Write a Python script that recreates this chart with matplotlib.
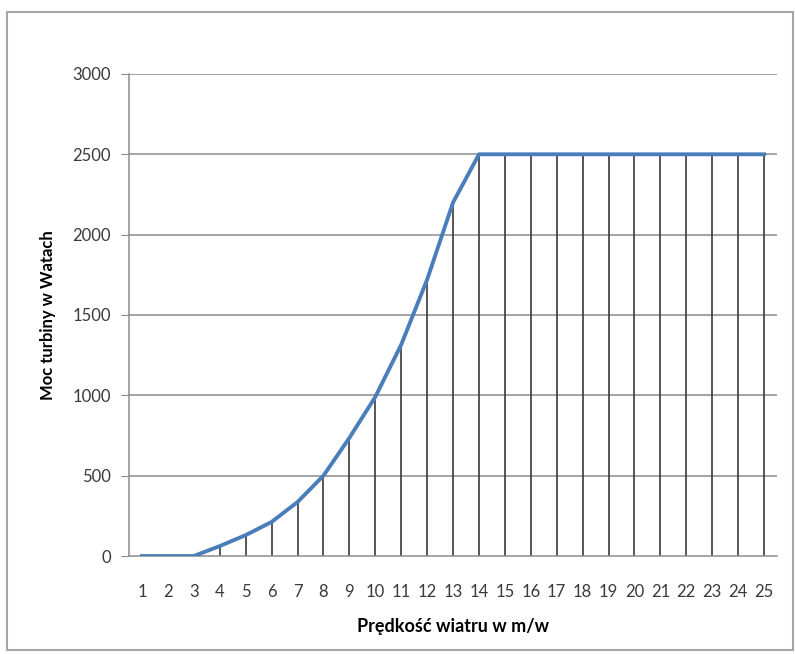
import numpy as np
import matplotlib.pyplot as plt
from matplotlib.patches import Rectangle

# predkosc wiatru (m/s) i moc turbiny (W)
speed = list(range(1, 26))
power = [0, 0, 0, 62, 130, 212, 336, 500, 735, 990, 1315, 1720, 2200,
         2500, 2500, 2500, 2500, 2500, 2500, 2500, 2500, 2500, 2500, 2500, 2500]
yticks = [0, 500, 1000, 1500, 2000, 2500, 3000]

plt.rcParams['font.family'] = ['Lato', 'DejaVu Sans']

fig = plt.figure(figsize=(7.95, 6.54), dpi=100)
ax = fig.add_axes([0.1623, 0.1498, 0.8151, 0.7371])

# ramka wykresu
fig.patches.append(Rectangle((0.009, 0.006), 0.988, 0.976, transform=fig.transFigure,
                             fill=False, edgecolor='#a6a6a6', linewidth=1.5))

for y in yticks[1:]:
    ax.axhline(y, color='#8c8c8c', linewidth=1.1, zorder=1)

# linie opadajace
ax.vlines(speed, 0, power, color='#3a3a3a', linewidth=1.2, zorder=2)
ax.plot(speed, power, color='#4a7ebb', linewidth=2.8, zorder=3)

ax.set_xlim(0.5, 25.5)
ax.set_ylim(0, 3000)
ax.set_xticks(speed)
ax.set_yticks(yticks)
ax.tick_params(axis='x', length=0, pad=20, labelsize=12, labelcolor='#3a3a3a')
ax.tick_params(axis='y', length=6, color='#8c8c8c', pad=7, labelsize=12,
               labelcolor='#3a3a3a')

for side in ['top', 'right']:
    ax.spines[side].set_visible(False)
for side in ['left', 'bottom']:
    ax.spines[side].set_color('#8c8c8c')
    ax.spines[side].set_linewidth(1.1)

ax.set_xlabel('Prędkość wiatru w m/w', fontsize=13, fontweight='bold', labelpad=13)
ax.set_ylabel('Moc turbiny w Watach', fontsize=12, fontweight='bold', labelpad=12)

fig.savefig('out.png', dpi=100)
